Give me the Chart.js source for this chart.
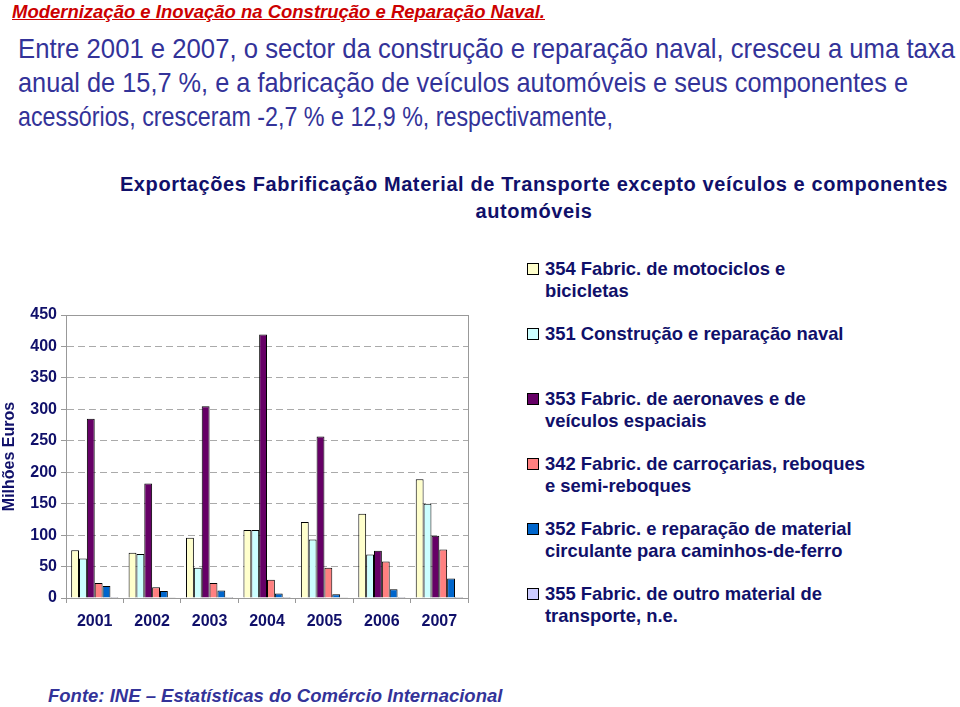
<!DOCTYPE html>
<html>
<head>
<meta charset="utf-8">
<script src="https://cdn.jsdelivr.net/npm/chart.js@4"></script>
<style>
  body { margin: 0; width: 960px; height: 707px; background: #fff; position: relative; overflow: hidden; font-family: "Liberation Sans", Arial, sans-serif; }
  #head { position: absolute; left: 12px; top: 1px; color: #cc0000; font: italic bold 18.5px "Liberation Sans", Arial, sans-serif; text-decoration: underline; white-space: nowrap; transform-origin: 0 0; }
  #para { position: absolute; left: 18px; top: 32px; color: #333399; font: 28px/34px "Liberation Sans", Arial, sans-serif; white-space: nowrap; }
  #para div { transform-origin: 0 0; }
  #ctitle { position: absolute; left: 60px; width: 948px; top: 171px; text-align: center; color: #10106a; font: bold 20px/27px "Liberation Sans", Arial, sans-serif; letter-spacing: 0.6px; }
  #wrap { position: absolute; left: 0; top: 290px; width: 490px; height: 350px; }
  #legend { position: absolute; left: 527px; top: 258px; width: 420px; }
  .item { height: 65px; position: relative; }
  .box { position: absolute; left: 0; top: 5px; width: 10px; height: 10px; border: 1px solid #000; }
  .txt { position: absolute; left: 18px; top: 0; white-space: pre; color: #10106a; font: bold 18.4px/22px "Liberation Sans", Arial, sans-serif; }
  #foot { position: absolute; left: 48px; top: 685px; color: #333399; font: italic bold 18.5px "Liberation Sans", Arial, sans-serif; white-space: nowrap; }
</style>
</head>
<body>
<div id="head">Modernização e Inovação na Construção e Reparação Naval.</div>
<div id="para">
  <div data-w="937">Entre 2001 e 2007, o sector da construção e reparação naval, cresceu a uma taxa</div>
  <div data-w="890">anual de 15,7 %, e a fabricação de veículos automóveis e seus componentes e</div>
  <div data-w="595">acessórios, cresceram -2,7 % e 12,9 %, respectivamente,</div>
</div>
<div id="ctitle">Exportações Fabrificação Material de Transporte excepto veículos e componentes<br>automóveis</div>
<div id="wrap"><canvas id="chart" width="490" height="350"></canvas></div>
<div id="legend"></div>
<div id="foot">Fonte: INE – Estatísticas do Comércio Internacional</div>
<script>
const years = ['2001', '2002', '2003', '2004', '2005', '2006', '2007'];
const seriesNames = [
  '354 Fabric. de motociclos e\nbicicletas',
  '351 Construção e reparação naval',
  '353 Fabric. de aeronaves e de\nveículos espaciais',
  '342 Fabric. de carroçarias, reboques\ne semi-reboques',
  '352 Fabric. e reparação de material\ncirculante para caminhos-de-ferro',
  '355 Fabric. de outro material de\ntransporte, n.e.'
];
const motociclos = [76, 72, 96, 108, 121, 134, 189];
const naval = [63, 70, 48, 108, 93, 69, 150];
const aeronaves = [285, 182, 305, 419, 257, 75, 99];
const carrocarias = [24, 17, 24, 29, 48, 58, 77];
const ferro = [19, 11, 12, 7, 6, 14, 31];
const outro = [1.5, 1, 1.5, 1.5, 1, 1.5, 1.5];
const yTicks = [0, 50, 100, 150, 200, 250, 300, 350, 400, 450];

const colors = ['#FFFFCC', '#CCFFFF', '#660066', '#FF8080', '#0066CC', '#CCCCFF'];
const values = [motociclos, naval, aeronaves, carrocarias, ferro, outro];
const navy = '#10106a';

// squeeze the condensed-looking header lines to the widths seen in the picture
function fit(el, w) {
  const r = w / el.getBoundingClientRect().width;
  el.style.transform = 'scaleX(' + r + ')';
}
fit(document.getElementById('head'), 533);
document.querySelectorAll('#para div').forEach(d => {
  d.style.display = 'inline-block';
  fit(d, +d.dataset.w);
  d.style.display = 'block';
});

const frame = {
  id: 'frame',
  afterDraw(chart) {
    const a = chart.chartArea, c = chart.ctx;
    c.save();
    c.strokeStyle = '#999';
    c.lineWidth = 1;
    c.strokeRect(Math.round(a.left) + 0.5, Math.round(a.top) + 0.5, Math.round(a.right - a.left), Math.round(a.bottom - a.top));
    c.restore();
  }
};

const tickFont = { family: 'Liberation Sans', size: 16, weight: 'bold' };

new Chart(document.getElementById('chart'), {
  type: 'bar',
  data: {
    labels: years,
    datasets: seriesNames.map((n, i) => ({
      label: n,
      data: values[i],
      backgroundColor: colors[i],
      borderColor: '#000',
      borderWidth: 1
    }))
  },
  options: {
    responsive: false,
    animation: false,
    layout: { padding: { left: 0, top: 25, right: 22, bottom: 0 } },
    datasets: { bar: { categoryPercentage: 0.82, barPercentage: 1 } },
    plugins: { legend: { display: false }, tooltip: { enabled: false } },
    scales: {
      x: {
        afterFit(s) { s.height = 42; },
        grid: { offset: true, drawOnChartArea: false, tickLength: 5, color: '#999' },
        border: { color: '#999' },
        ticks: { color: navy, padding: 9, font: tickFont }
      },
      y: {
        min: 0,
        max: 450,
        afterFit(s) { s.width = 66; },
        afterBuildTicks(s) { s.ticks = yTicks.map(v => ({ value: v })); },
        grid: { color: '#aaa', tickLength: 5, tickColor: '#999' },
        border: { color: '#999', dash: [7, 4] },
        ticks: { color: navy, padding: 4, font: tickFont },
        title: { display: true, text: 'Milhões Euros', color: navy, padding: 0, font: { family: 'Liberation Sans', size: 16, weight: 'bold' } }
      }
    }
  },
  plugins: [frame]
});

const legend = document.getElementById('legend');
seriesNames.forEach((n, i) => {
  const it = document.createElement('div');
  it.className = 'item';
  it.innerHTML = '<div class="box" style="background:' + colors[i] + '"></div><div class="txt"></div>';
  it.querySelector('.txt').textContent = n;
  legend.appendChild(it);
});
</script>
</body>
</html>
